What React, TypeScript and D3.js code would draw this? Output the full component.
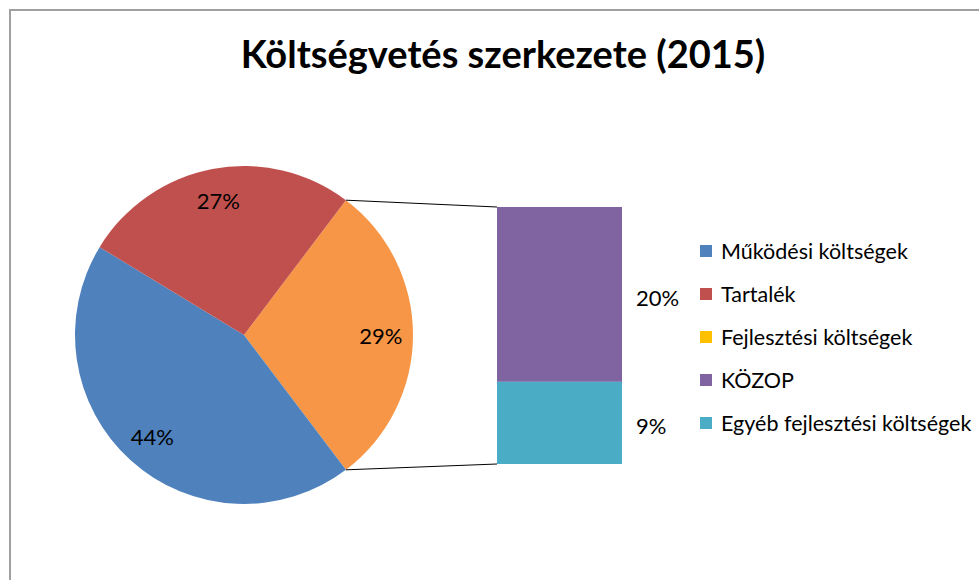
import * as d3 from "d3";

const W = 979;
const H = 580;

// pie categories (the last one is split out into the bar)
const pieNames = ["Működési költségek", "Tartalék", "Fejlesztési költségek"];
const pieValues = [44.0, 26.6];
const pieColors = ["#4F81BD", "#C0504D", "#F79646"];

// breakdown of "Fejlesztési költségek"
const barNames = ["KÖZOP", "Egyéb fejlesztési költségek"];
const barValues = [20.0, 9.4];
const barColors = ["#8064A2", "#4BACC6"];

const legendNames = ["Működési költségek", "Tartalék", "Fejlesztési költségek", "KÖZOP", "Egyéb fejlesztési költségek"];
const legendColors = ["#4F81BD", "#C0504D", "#FFC000", "#8064A2", "#4BACC6"];

const font = "Lato, 'Open Sans', sans-serif";

export default function App() {
  const cx = 244, cy = 335, r = 169;
  const devTotal = d3.sum(barValues);
  const total = d3.sum(pieValues) + devTotal;
  const fmt = d3.format(".0%");

  // orange slice first, centred on 3 o'clock, then clockwise blue and red
  const slices = [
    { name: pieNames[2], value: devTotal, color: pieColors[2] },
    { name: pieNames[0], value: pieValues[0], color: pieColors[0] },
    { name: pieNames[1], value: pieValues[1], color: pieColors[1] },
  ];
  const start = Math.PI / 2 - (Math.PI * devTotal) / total;
  const pie = d3.pie<any>().sort(null).value((d) => d.value).startAngle(start).endAngle(start + 2 * Math.PI);
  const arcs = pie(slices);
  const arc = d3.arc<any>().innerRadius(0).outerRadius(r);
  const labelArc = d3.arc<any>().innerRadius(r * 0.81).outerRadius(r * 0.81);

  const barX = 497, barW = 125, barTop = 207, barBottom = 464;
  const y = d3.scaleLinear().domain([0, devTotal]).range([barTop, barBottom]);
  let acc = 0;
  const segs = barValues.map((v, i) => {
    const s = { name: barNames[i], value: v, color: barColors[i], y0: y(acc), y1: y(acc + v) };
    acc += v;
    return s;
  });

  const dev = arcs[0];
  const pt = (a: number) => [cx + r * Math.sin(a), cy - r * Math.cos(a)];
  const [tx, ty] = pt(dev.startAngle);
  const [bx, by] = pt(dev.endAngle);

  const legendY = d3.scalePoint().domain(legendNames).range([251, 423]);

  return (
    <svg width={W} height={H} style={{ position: "absolute", left: 0, top: 0, background: "#fff" }} fontFamily={font}>
      <rect x={10} y={10} width={1000} height={600} fill="#fff" stroke="#a0a0a0" strokeWidth={2} />
      <text x={503} y={68} textAnchor="middle" fontSize={38} fontWeight="bold" fill="#000">
        Költségvetés szerkezete (2015)
      </text>

      <g transform={`translate(${cx},${cy})`}>
        {arcs.map((a, i) => (
          <path key={i} d={arc(a) as string} fill={a.data.color} />
        ))}
        {arcs.map((a, i) => {
          const [lx, ly] = labelArc.centroid(a);
          return (
            <text key={"l" + i} x={lx} y={ly} textAnchor="middle" dominantBaseline="central" fontSize={22} fill="#000">
              {fmt(a.data.value / total)}
            </text>
          );
        })}
      </g>

      <line x1={tx} y1={ty} x2={barX} y2={barTop} stroke="#000" strokeWidth={1} />
      <line x1={bx} y1={by} x2={barX} y2={barBottom} stroke="#000" strokeWidth={1} />

      {segs.map((s, i) => (
        <g key={i}>
          <rect x={barX} y={s.y0} width={barW} height={s.y1 - s.y0} fill={s.color} />
          <text x={636} y={(s.y0 + s.y1) / 2 + 3} dominantBaseline="central" fontSize={22} fill="#000">
            {fmt(s.value / total)}
          </text>
        </g>
      ))}

      {legendNames.map((n, i) => (
        <g key={n} transform={`translate(700,${legendY(n)})`}>
          <rect x={0} y={-6} width={12} height={12} fill={legendColors[i]} />
          <text x={21} y={0} dominantBaseline="central" fontSize={21.5} fill="#000">
            {n}
          </text>
        </g>
      ))}
    </svg>
  );
}
